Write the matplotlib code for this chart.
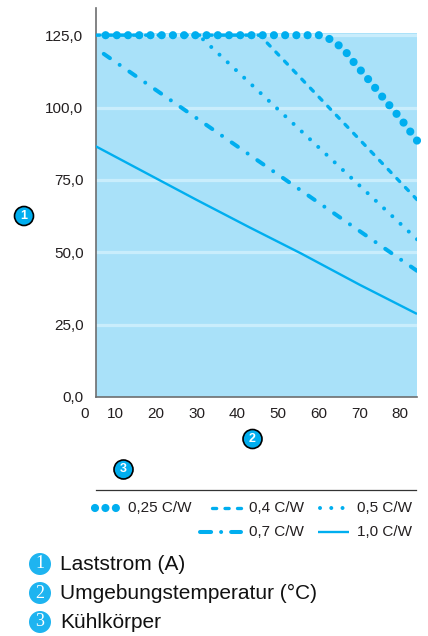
import matplotlib
matplotlib.use("Agg")
import matplotlib.pyplot as plt
from matplotlib.lines import Line2D
from matplotlib.patches import Circle
from matplotlib.transforms import blended_transform_factory

plt.rcParams['font.family'] = ['Liberation Sans', 'DejaVu Sans']
plt.rcParams['lines.scale_dashes'] = False

# ---------------- data ----------------
x_025 = [5.0, 60.0, 62.6, 64.8, 66.8, 68.5, 72.0, 76.0, 80.0, 84.1]
y_025 = [125.0, 125.0, 123.7, 121.6, 118.9, 115.8, 110.0, 103.0, 96.3, 88.6]

x_04 = [5.0, 45.5, 84.1]
y_04 = [125.0, 125.0, 68.2]

x_05 = [5.0, 30.5, 84.1]
y_05 = [125.0, 125.0, 54.5]

x_07 = [5.0, 84.1]
y_07 = [120.7, 43.6]

x_10 = [5.0, 30.0, 43.0, 55.5, 70.0, 84.1]
y_10 = [86.8, 68.1, 58.6, 49.7, 38.8, 28.7]

y_ticks = [0, 25, 50, 75, 100, 125]
y_tick_labels = ["0,0", "25,0", "50,0", "75,0", "100,0", "125,0"]
x_ticks = [10, 20, 30, 40, 50, 60, 70, 80]
x_tick_labels = ["10", "20", "30", "40", "50", "60", "70", "80"]
x_zero_label = "0"

legend_labels = ["0,25 C/W", "0,4 C/W", "0,5 C/W", "0,7 C/W", "1,0 C/W"]
footnotes = ["Laststrom (A)", "Umgebungstemperatur (°C)", "Kühlkörper"]

# ---------------- style ----------------
W, H = 428, 636
CYAN = '#00aeef'
FILL = '#a9e1f9'
BAND = '#c9edfc'
TXT = '#231f20'

st_025 = dict(lw=5.9, ls=(0, (0.01, 8.07)), dash_capstyle='round')
st_04 = dict(lw=2.4, ls=(0, (3.0, 6.0)), dash_capstyle='round')
st_05 = dict(lw=2.9, ls=(0, (0.01, 8.1)), dash_capstyle='round')
st_07 = dict(lw=2.9, ls=(0, (5.4, 8.5, 0.01, 8.5)), dash_capstyle='round')
st_10 = dict(lw=1.7, ls='-', solid_capstyle='butt')

fig = plt.figure(figsize=(W / 100, H / 100), dpi=100)
fig.patch.set_facecolor('white')

def px_ax(l, t, r, b):
    return [l / W, 1 - b / H, (r - l) / W, (b - t) / H]

ax = fig.add_axes(px_ax(96, 8, 417, 397))
xmin, xmax = 5.3, 84.1
ymin, ymax = 0, 134.4
ax.set_xlim(xmin, xmax)
ax.set_ylim(ymin, ymax)
ax.set_facecolor('white')

ax.axhspan(0, 125.6, color=FILL, zorder=0.2, lw=0)
for yv in y_ticks[1:]:
    ax.axhline(yv, color=BAND, lw=2.3, zorder=0.5)

# curves drawn from the right end so the dash pattern starts at the end point
ax.plot(x_10, y_10, color=CYAN, zorder=3, **st_10)
ax.plot(x_07[::-1], y_07[::-1], color=CYAN, zorder=3, **st_07)
ax.plot(x_05[::-1], y_05[::-1], color=CYAN, zorder=3, **st_05)
ax.plot(x_04[::-1], y_04[::-1], color=CYAN, zorder=3, **st_04)
l025, = ax.plot(x_025[::-1], y_025[::-1], color=CYAN, zorder=4, **st_025)
l025.set_clip_on(False)

for s in ['top', 'right']:
    ax.spines[s].set_visible(False)
for s in ['left', 'bottom']:
    ax.spines[s].set_color('#6d6e70')
    ax.spines[s].set_linewidth(1.2)

ax.set_yticks(y_ticks)
ax.set_yticklabels(y_tick_labels)
ax.set_xticks(x_ticks)
ax.set_xticklabels(x_tick_labels)
ax.tick_params(axis='both', length=0, labelsize=11, labelcolor=TXT)
ax.tick_params(axis='y', pad=9)
ax.tick_params(axis='x', pad=7.5)
trans = blended_transform_factory(ax.transData, ax.transAxes)
ax.text(2.6, -7.5 / 72 * 100 / (397 - 8), x_zero_label, transform=trans,
        ha='center', va='top', fontsize=11, color=TXT, clip_on=False)

# ---------------- helpers in pixel coords ----------------
T = fig.dpi_scale_trans

def P(x, y):
    return (x / 100, (H - y) / 100)

def line_px(x0, x1, y, **kw):
    a, b = P(x0, y), P(x1, y)
    fig.add_artist(Line2D([a[0], b[0]], [a[1], b[1]], transform=T, color=CYAN, **kw))

def badge(x, y, txt, r, edge=True, serif=False, fs=9):
    c = Circle(P(x, y), r / 100, transform=T, facecolor=CYAN if edge else '#1eb4f0',
               edgecolor='black' if edge else 'none', lw=1.2 if edge else 0, zorder=5)
    fig.add_artist(c)
    fig.text(x / W, 1 - y / H, txt, ha='center', va='center', color='white',
             fontsize=fs, fontweight='bold' if not serif else 'normal',
             family=['Liberation Serif', 'DejaVu Serif'] if serif else ['Liberation Sans', 'DejaVu Sans'],
             zorder=6)

# axis badges
badge(24, 216, "1", 9.5)
badge(252.5, 439, "2", 9.5)
badge(123.5, 469.5, "3", 9.5)

# legend rule
a, b = P(96, 490), P(416, 490)
fig.add_artist(Line2D([a[0], b[0]], [a[1], b[1]], transform=T, color='#333333', lw=0.9))

# legend rows
r1, r2 = 507.5, 531.5
line_px(94.5, 117, r1, lw=5.9, ls=(0, (0.01, 7.5)), dash_capstyle='round')
line_px(211.6, 241, r1, **st_04)
line_px(320, 342.5, r1, **st_05)
line_px(200, 241, r2, lw=2.9, ls=(0, (8.0, 7.2, 0.01, 7.2)), dash_capstyle='round')
line_px(318, 349, r2, **st_10)

for (lx, ly), lab in zip([(127.7, r1), (249.3, r1), (357.3, r1), (249.3, r2), (357.3, r2)],
                         legend_labels):
    fig.text(lx / W, 1 - ly / H, lab, ha='left', va='center', fontsize=11, color=TXT)

# footnotes
for i, lab in enumerate(footnotes):
    yy = 564 + 29 * i
    badge(40, yy, str(i + 1), 11, edge=False, serif=True, fs=13)
    fig.text(60 / W, 1 - yy / H, lab, ha='left', va='center', fontsize=15, color='#111111')

fig.savefig('out.png', dpi=100)
